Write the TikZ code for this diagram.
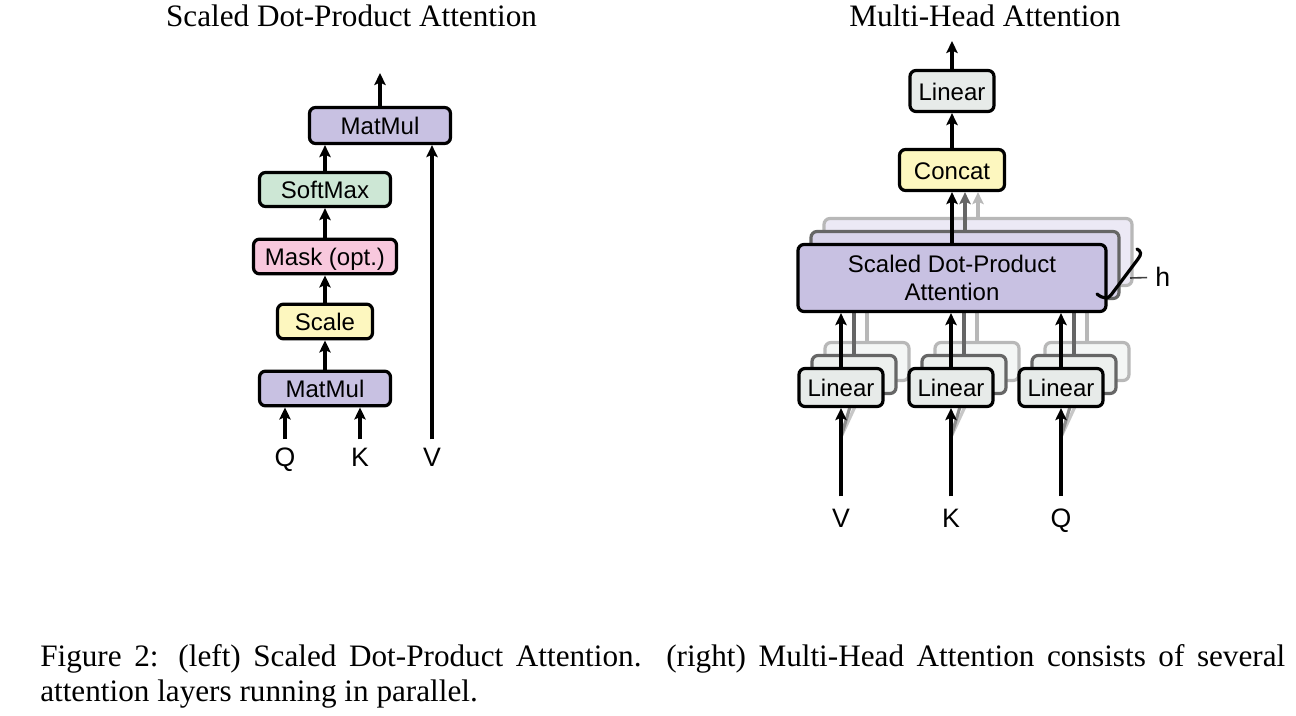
\documentclass[tikz,border=0pt]{standalone}
\usepackage{fontspec}
\setmainfont{Liberation Serif}
\setsansfont{Liberation Sans}
\usetikzlibrary{arrows.meta}

\definecolor{purp}{RGB}{200,193,226}
\definecolor{mint}{RGB}{205,231,213}
\definecolor{rose}{RGB}{248,200,221}
\definecolor{lemon}{RGB}{253,247,191}
\definecolor{lingray}{RGB}{231,235,233}

\tikzset{
  box/.style={draw=black, line width=2.4pt, rounded corners=4.5pt, inner sep=0pt,
    font=\sffamily\fontsize{18}{21.3}\selectfont, align=center},
  oneline/.style={text height=13.8pt, text depth=0pt},
  lab/.style={inner sep=0pt, anchor=base, font=\sffamily\fontsize{20}{22}\selectfont},
  arr/.style={line width=2.4pt, -{Stealth[length=9pt,width=8.5pt,inset=1.8pt]}},
  title/.style={inner sep=0pt, anchor=base, font=\fontsize{23.4}{28}\selectfont},
}

\begin{document}
\begin{tikzpicture}[x=0.75pt,y=-0.75pt]
\path[fill=white] (0,0) rectangle (1296,716);
\useasboundingbox (0,0) rectangle (1296,716);

% ---------- titles ----------
\node[title] (tleft) at (351.5,27) {Scaled Dot-Product Attention};
\node[title] (tright) at (985,27) {Multi-Head Attention};

% ---------- scaled dot-product attention ----------
\node[box, oneline, fill=purp, minimum width=105.75pt, minimum height=27pt] (mm2) at (380,125.5) {MatMul};
\node[box, oneline, fill=mint, minimum width=98.25pt, minimum height=25.5pt] (soft) at (325,189.5) {SoftMax};
\node[box, oneline, fill=rose, minimum width=107.25pt, minimum height=26pt] (mask) at (325,256.5) {Mask (opt.)};
\node[box, oneline, fill=lemon, minimum width=71.25pt, minimum height=26pt] (scale) at (325,321.5) {Scale};
\node[box, oneline, fill=purp, minimum width=98.25pt, minimum height=26pt] (mm1) at (325,388.5) {MatMul};

\node[lab] (Ql) at (285,466) {Q};
\node[lab] (Kl) at (360,466) {K};
\node[lab] (Vl) at (432,466) {V};
\coordinate (outL) at (380,73);

\draw[arr, shorten <=6pt] (Ql.north) -- (Ql.north |- mm1.south);
\draw[arr, shorten <=6pt] (Kl.north) -- (Kl.north |- mm1.south);
\draw[arr, shorten <=6pt] (Vl.north) -- (Vl.north |- mm2.south);
\draw[arr] (mm1) -- (scale);
\draw[arr] (scale) -- (mask);
\draw[arr] (mask) -- (soft);
\draw[arr] (soft.north) -- (soft.north |- mm2.south);
\draw[arr] (mm2.north) -- (outL);

% ---------- multi-head attention ----------
% stacked heads behind the front attention block
\node[box, draw=black!28, fill=purp!35, minimum width=231pt, minimum height=50.25pt] (sdpa3) at (978,252) {};
\node[box, draw=black!60, fill=purp!70, minimum width=231pt, minimum height=50.25pt] (sdpa2) at (965,265) {};

% projections of the third head
\foreach \n/\x in {v/841,k/951,q/1061}{
  \coordinate (s\n) at (\x,437);
  \draw[arr, draw=black!22] (s\n) -- (\x+26,380.5);
  \node[box, draw=black!28, fill=lingray!45, minimum width=63pt, minimum height=28.5pt] (l\n3) at (\x+26,361.5) {};
  \draw[line width=2.4pt, black!28] (l\n3.north) -- (l\n3.north |- sdpa3.south);
}
% projections of the second head
\foreach \n/\x in {v/841,k/951,q/1061}{
  \draw[arr, draw=black!45] (s\n) -- (\x+13,393.5);
  \node[box, draw=black!60, fill=lingray!75, minimum width=63pt, minimum height=28.5pt] (l\n2) at (\x+13,374.5) {};
  \draw[line width=2.4pt, black!60] (l\n2.north) -- (l\n2.north |- sdpa2.south);
}

\node[box, fill=purp, minimum width=231pt, minimum height=50.25pt] (sdpa) at (952,278) {Scaled Dot-Product\\Attention};

% front projections
\node[box, oneline, fill=lingray, minimum width=63pt, minimum height=28.5pt] (lv) at (841,387.5) {Linear};
\node[box, oneline, fill=lingray, minimum width=63pt, minimum height=28.5pt] (lk) at (951,387.5) {Linear};
\node[box, oneline, fill=lingray, minimum width=63pt, minimum height=28.5pt] (lq) at (1061,387.5) {Linear};

\node[lab] (Vr) at (841,527) {V};
\node[lab] (Kr) at (951,527) {K};
\node[lab] (Qr) at (1061,527) {Q};

\draw[arr, shorten <=9pt] (Vr.north) -- (lv);
\draw[arr, shorten <=9pt] (Kr.north) -- (lk);
\draw[arr, shorten <=9pt] (Qr.north) -- (lq);
\draw[arr] (lv.north) -- (lv.north |- sdpa.south);
\draw[arr] (lk.north) -- (lk.north |- sdpa.south);
\draw[arr] (lq.north) -- (lq.north |- sdpa.south);

\node[box, oneline, fill=lemon, minimum width=78.75pt, minimum height=30.75pt] (concat) at (952,170) {Concat};
\node[box, oneline, fill=lingray, minimum width=63pt, minimum height=30.75pt] (lin) at (952,91) {Linear};
\coordinate (outR) at (952,41);

\draw[arr, draw=black!28] (sdpa3.north) -- (sdpa3.north |- concat.south);
\draw[arr, draw=black!60] (sdpa2.north) -- (sdpa2.north |- concat.south);
\draw[arr] (sdpa.north) -- (concat.south);
\draw[arr] (concat) -- (lin);
\draw[arr] (lin.north) -- (outR);

% head-count brace
\draw[line width=2.4pt, line cap=round] (1097,294) .. controls (1103,299) and (1108,299) .. (1111,295)
  -- (1138,259) .. controls (1142,254) and (1141,251) .. (1137,249);
\coordinate (hmid) at (1130,278);
\node[lab, anchor=base west] (hlab) at (1155,287) {h};
\draw[line width=1.2pt, black!75, shorten >=6pt] (hmid) -- (hlab.west);

% ---------- caption ----------
\node[inner sep=0pt, anchor=base west, font=\fontsize{23.4}{28}\selectfont] (cap1) at (40,666.7)
  {\makebox[933.75pt][s]{Figure 2: (left) Scaled Dot-Product Attention. (right) Multi-Head Attention consists of several}};
\node[inner sep=0pt, anchor=base west, font=\fontsize{23.4}{28}\selectfont] (cap2) at (40,701.7)
  {attention layers running in parallel.};
\end{tikzpicture}
\end{document}
